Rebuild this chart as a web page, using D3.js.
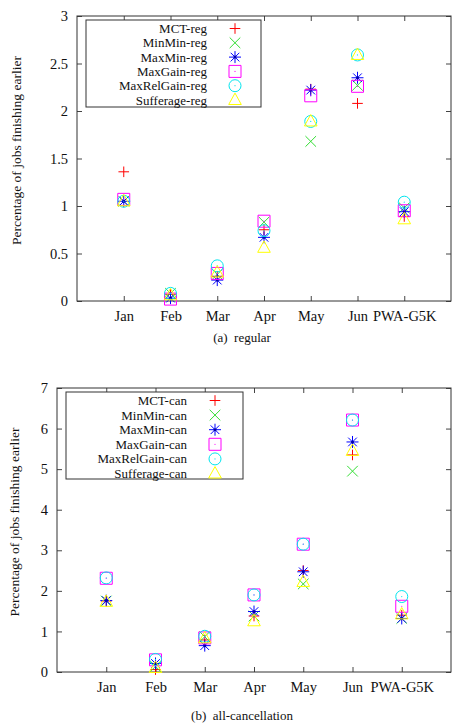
<!DOCTYPE html>
<html>
<head>
<meta charset="utf-8">
<script src="https://cdn.jsdelivr.net/npm/d3@7"></script>
<style>
  html, body { margin: 0; padding: 0; background: #fff; }
  svg { display: block; }
  text { font-family: "Liberation Serif", "DejaVu Serif", serif; fill: #111; }
</style>
</head>
<body>
<div id="chart"></div>
<script>
'use strict';

// categories on the x axis
const categories = ['Jan', 'Feb', 'Mar', 'Apr', 'May', 'Jun', 'PWA-G5K'];

// heuristics (same order in both panels)
const heuristics = ['MCT', 'MinMin', 'MaxMin', 'MaxGain', 'MaxRelGain', 'Sufferage'];

// (a) regular
const mctReg        = [1.36, 0.07, 0.26, 0.75, 2.23, 2.08, 0.89];
const minMinReg     = [1.05, 0.08, 0.28, 0.83, 1.68, 2.27, 0.98];
const maxMinReg     = [1.05, 0.03, 0.22, 0.67, 2.22, 2.35, 0.94];
const maxGainReg    = [1.07, 0.02, 0.29, 0.84, 2.16, 2.26, 0.95];
const maxRelGainReg = [1.05, 0.08, 0.37, 0.74, 1.89, 2.59, 1.04];
const sufferageReg  = [1.05, 0.06, 0.30, 0.56, 1.89, 2.59, 0.86];

// (b) all-cancellation
const mctCan        = [1.75, 0.06, 0.79, 1.38, 2.50, 5.35, 1.40];
const minMinCan     = [1.75, 0.14, 0.87, 1.38, 2.17, 4.95, 1.32];
const maxMinCan     = [1.76, 0.21, 0.65, 1.49, 2.47, 5.67, 1.32];
const maxGainCan    = [2.31, 0.30, 0.84, 1.90, 3.15, 6.21, 1.62];
const maxRelGainCan = [2.32, 0.31, 0.88, 1.90, 3.15, 6.21, 1.86];
const sufferageCan  = [1.73, 0.10, 0.83, 1.25, 2.22, 5.45, 1.42];

const yTicksReg = [0, 0.5, 1, 1.5, 2, 2.5, 3];
const yTicksCan = [0, 1, 2, 3, 4, 5, 6, 7];

const COLORS = ['#ff0000', '#33dd33', '#0000ff', '#ff00ff', '#00e5ee', '#ffff00'];
const SHAPES = ['plus', 'cross', 'star', 'square', 'circle', 'triangle'];

const W = 457, H = 726;
const FONT = '"Liberation Serif", "DejaVu Serif", serif';

const svg = d3.select('#chart').append('svg')
  .attr('width', W).attr('height', H)
  .attr('viewBox', `0 0 ${W} ${H}`);

// gnuplot-like point symbols, centered at 0,0
function symbolPath(shape, s) {
  const p = d3.path();
  const d = s * 0.72;
  switch (shape) {
    case 'plus':
      p.moveTo(-s, 0); p.lineTo(s, 0); p.moveTo(0, -s); p.lineTo(0, s); break;
    case 'cross':
      p.moveTo(-s, -s); p.lineTo(s, s); p.moveTo(-s, s); p.lineTo(s, -s); break;
    case 'star':
      p.moveTo(-s, 0); p.lineTo(s, 0); p.moveTo(0, -s); p.lineTo(0, s);
      p.moveTo(-d, -d); p.lineTo(d, d); p.moveTo(-d, d); p.lineTo(d, -d); break;
    case 'square':
      p.rect(-s, -s, 2 * s, 2 * s); break;
    case 'circle':
      p.moveTo(s, 0); p.arc(0, 0, s, 0, 2 * Math.PI); break;
    case 'triangle':
      p.moveTo(0, -s * 1.15); p.lineTo(s * 1.05, s * 0.75); p.lineTo(-s * 1.05, s * 0.75); p.closePath(); break;
  }
  return p.toString();
}

function drawMarker(g, shape, color, x, y) {
  const s = shape === 'plus' || shape === 'cross' ? 5.3 : 6;
  g.append('path')
    .attr('transform', `translate(${x},${y})`)
    .attr('d', symbolPath(shape, s))
    .attr('fill', 'none')
    .attr('stroke', color)
    .attr('stroke-width', 1);
  if (shape === 'star') {
    g.append('circle').attr('cx', x).attr('cy', y).attr('r', 1.5).attr('fill', '#0000aa');
  } else if (shape === 'square' || shape === 'circle') {
    g.append('circle').attr('cx', x).attr('cy', y).attr('r', 0.6).attr('fill', color);
  }
}

function drawPanel(cfg) {
  const { left, right, top, bottom, yMax, yTicks, yFmt, series, suffix, legend, caption } = cfg;

  const x = d3.scaleLinear().domain([-1, categories.length]).range([left, right]);
  const y = d3.scaleLinear().domain([0, yMax]).range([bottom, top]);

  const g = svg.append('g');

  // inward ticks on all four sides
  const tickLen = 5;
  const xAxisB = d3.axisBottom(x).tickValues(d3.range(categories.length))
    .tickSizeInner(-tickLen).tickSizeOuter(0).tickFormat(i => categories[i]).tickPadding(10);
  const xAxisT = d3.axisTop(x).tickValues(d3.range(categories.length))
    .tickSizeInner(-tickLen).tickSizeOuter(0).tickFormat('');
  const yAxisL = d3.axisLeft(y).tickValues(yTicks)
    .tickSizeInner(-tickLen).tickSizeOuter(0).tickFormat(yFmt).tickPadding(9);
  const yAxisR = d3.axisRight(y).tickValues(yTicks)
    .tickSizeInner(-tickLen).tickSizeOuter(0).tickFormat('');

  const axes = [
    g.append('g').attr('transform', `translate(0,${bottom})`).call(xAxisB),
    g.append('g').attr('transform', `translate(0,${top})`).call(xAxisT),
    g.append('g').attr('transform', `translate(${left},0)`).call(yAxisL),
    g.append('g').attr('transform', `translate(${right},0)`).call(yAxisR)
  ];
  axes.forEach(a => {
    a.select('.domain').remove();
    a.selectAll('.tick line').attr('stroke', '#444');
    a.selectAll('.tick text')
      .attr('font-family', FONT)
      .attr('font-size', 14.5).attr('fill', '#111');
  });

  g.append('rect')
    .attr('x', left).attr('y', top)
    .attr('width', right - left).attr('height', bottom - top)
    .attr('fill', 'none').attr('stroke', '#333').attr('stroke-width', 1);

  // y axis title
  g.append('text')
    .attr('transform', `translate(${cfg.yTitleX},${(top + bottom) / 2 - 8}) rotate(-90)`)
    .attr('text-anchor', 'middle')
    .attr('font-family', FONT)
    .attr('font-size', 13.5)
    .text('Percentage of jobs finishing earlier');

  // legend box
  const lg = g.append('g');
  lg.append('rect')
    .attr('x', legend.x).attr('y', legend.y)
    .attr('width', legend.w).attr('height', legend.h)
    .attr('fill', '#fff').attr('stroke', '#333').attr('stroke-width', 1);

  heuristics.forEach((name, i) => {
    const ly = legend.y + 8.5 + i * legend.step;
    lg.append('text')
      .attr('x', legend.textX).attr('y', ly)
      .attr('dy', '0.35em')
      .attr('text-anchor', 'end')
      .attr('font-family', FONT)
      .attr('font-size', 13)
      .text(`${name}-${suffix}`);
    drawMarker(lg, SHAPES[i], COLORS[i], legend.symX, ly);
  });

  // points
  const pts = g.append('g');
  series.forEach((vals, si) => {
    vals.forEach((v, ci) => drawMarker(pts, SHAPES[si], COLORS[si], x(ci), y(v)));
  });

  g.append('text')
    .attr('x', 242).attr('y', caption.y)
    .attr('text-anchor', 'middle')
    .attr('font-family', FONT)
    .attr('font-size', 13)
    .attr('xml:space', 'preserve')
    .style('white-space', 'pre')
    .text(caption.text);
}

drawPanel({
  left: 77, right: 451, top: 16, bottom: 301,
  yMax: 3, yTicks: yTicksReg, yFmt: d => String(d), yTitleX: 21,
  series: [mctReg, minMinReg, maxMinReg, maxGainReg, maxRelGainReg, sufferageReg],
  suffix: 'reg',
  legend: { x: 86, y: 20, w: 175, h: 87, step: 14.3, textX: 207, symX: 235 },
  caption: { y: 342, text: '(a)  regular' }
});

drawPanel({
  left: 57, right: 451, top: 388, bottom: 672,
  yMax: 7, yTicks: yTicksCan, yFmt: d => String(d), yTitleX: 19,
  series: [mctCan, minMinCan, maxMinCan, maxGainCan, maxRelGainCan, sufferageCan],
  suffix: 'can',
  legend: { x: 66, y: 392, w: 177, h: 87, step: 14.6, textX: 187, symX: 215 },
  caption: { y: 720, text: '(b)  all-cancellation' }
});
</script>
</body>
</html>
